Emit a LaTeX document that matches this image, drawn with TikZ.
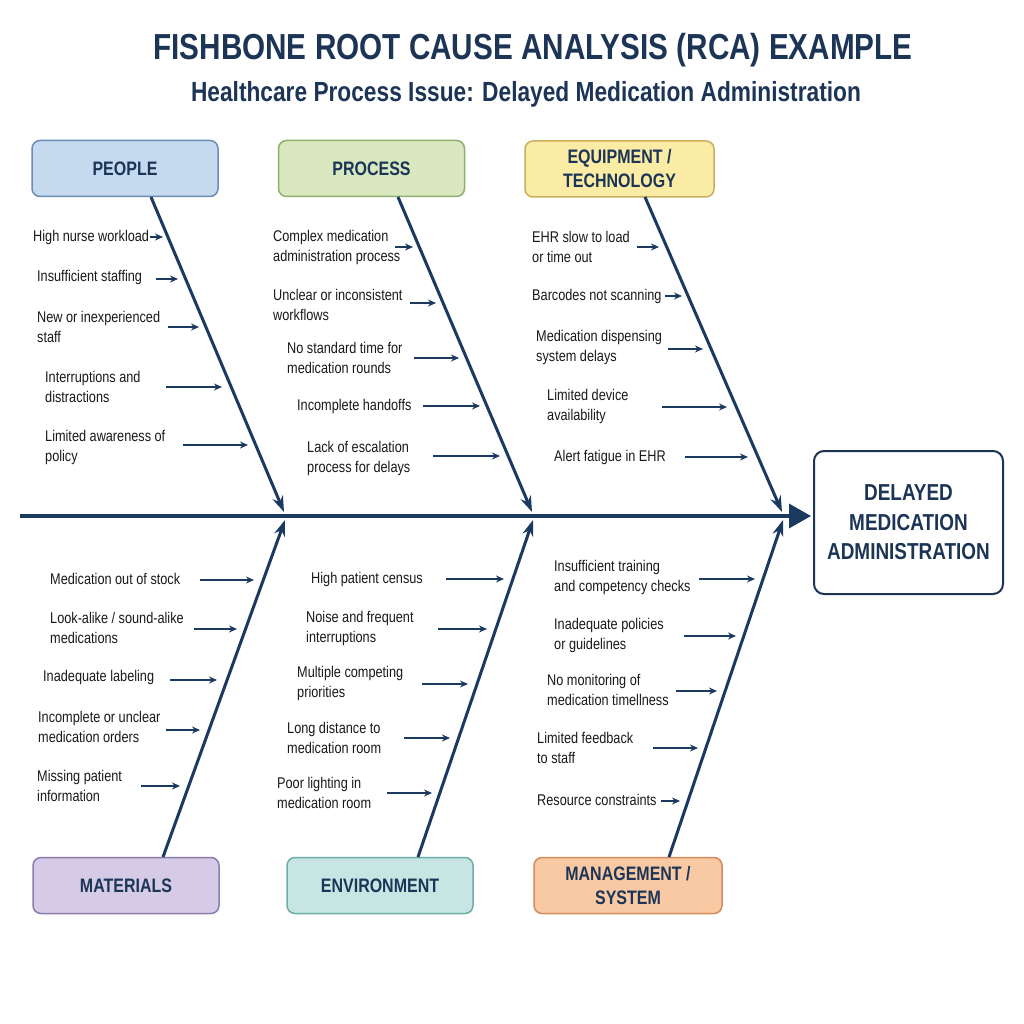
\documentclass[tikz,border=0pt]{standalone}
\usepackage{fontspec}
\setmainfont{Liberation Sans}[FakeStretch=0.82]
\usetikzlibrary{arrows.meta}
\definecolor{navy}{HTML}{1C3557}
\definecolor{bonecol}{HTML}{1B3A60}
\definecolor{causetxt}{HTML}{1A1A1A}
\definecolor{peoplefill}{HTML}{C5DAEF}\definecolor{peopleline}{HTML}{6A8DB5}
\definecolor{procfill}{HTML}{D9E8BF}\definecolor{procline}{HTML}{8FAF6E}
\definecolor{equipfill}{HTML}{FAEBA5}\definecolor{equipline}{HTML}{C9AE5C}
\definecolor{matfill}{HTML}{D5CBE6}\definecolor{matline}{HTML}{8C7DB0}
\definecolor{envfill}{HTML}{C6E5E3}\definecolor{envline}{HTML}{6FADAA}
\definecolor{mgmtfill}{HTML}{F8C9A2}\definecolor{mgmtline}{HTML}{D38C5C}
\newcommand\mycause[7]{%
  \node[cause] (#1) at (#2,#3) {#4};
  \coordinate (#1-s) at (#5,#7);
  \coordinate (#1-e) at (#6,#7);
  \draw[smallarrow] (#1-s) -- (#1-e);}
\begin{document}
\begin{tikzpicture}[x=1pt,y=-1pt,
  catbox/.style={rounded corners=8pt, line width=1.5pt, minimum width=186pt, minimum height=56pt,
    font=\bfseries\fontsize{19.5}{24}\selectfont, text=navy, align=center, inner sep=2pt},
  cause/.style={anchor=west, inner sep=0pt, align=left, text=causetxt,
    font=\fontsize{15.5}{20}\selectfont},
  smallarrow/.style={draw=bonecol, line width=1.4pt, -{Stealth[length=8pt,width=7pt]}},
  bone/.style={draw=bonecol, line width=3pt, -{Stealth[length=16pt,width=11pt]}},
  spine/.style={draw=bonecol, line width=3.5pt, -{Triangle[length=22pt,width=24pt]}}]
\fill[white] (0,0) rectangle (1024,1024);
\useasboundingbox (0,0) rectangle (1024,1024);

% titles
\node[text=navy, font=\bfseries\fontsize{36.2}{40}\selectfont] (title) at (533,50) {FISHBONE ROOT CAUSE ANALYSIS (RCA) EXAMPLE};
\node[text=navy, font=\bfseries\fontsize{27.7}{32}\selectfont] (subtitle) at (526,94) {Healthcare Process Issue: Delayed Medication Administration};

% category boxes
\node[catbox, fill=peoplefill, draw=peopleline] (people) at (125,168.5) {PEOPLE};
\node[catbox, fill=procfill, draw=procline] (process) at (371.5,168.5) {PROCESS};
\node[catbox, fill=equipfill, draw=equipline, minimum width=189pt] (equip) at (619.5,169) {EQUIPMENT /\\TECHNOLOGY};
\node[catbox, fill=matfill, draw=matline] (materials) at (126,885.5) {MATERIALS};
\node[catbox, fill=envfill, draw=envline] (environment) at (380,885.5) {ENVIRONMENT};
\node[catbox, fill=mgmtfill, draw=mgmtline, minimum width=188pt] (management) at (628,885.5) {MANAGEMENT /\\SYSTEM};

% effect box
\node[draw=navy, fill=white, line width=2pt, rounded corners=10pt, minimum width=189pt, minimum height=143pt,
  text=navy, align=center, font=\bfseries\fontsize{23.1}{29.5}\selectfont] (effect) at (908.5,522.5)
  {DELAYED\\MEDICATION\\ADMINISTRATION};

% spine
\coordinate (tail) at (20,516);
\draw[spine, shorten >=2pt] (tail) -- (tail -| effect.west);

% bone coordinates
\coordinate (people-b) at (151,197);
\coordinate (process-b) at (398,197);
\coordinate (equip-b) at (645,197);
\coordinate (materials-b) at (163,857);
\coordinate (environment-b) at (418,857);
\coordinate (management-b) at (669,857);
\coordinate (j1t) at (284,512);
\coordinate (j2t) at (532,512);
\coordinate (j3t) at (782,512);
\coordinate (j1b) at (285,520);
\coordinate (j2b) at (533,520);
\coordinate (j3b) at (783,520);
\draw[bone] (people-b) -- (j1t);
\draw[bone] (process-b) -- (j2t);
\draw[bone] (equip-b) -- (j3t);
\draw[bone] (materials-b) -- (j1b);
\draw[bone] (environment-b) -- (j2b);
\draw[bone] (management-b) -- (j3b);

% people causes
\mycause{p1}{33}{237}{High nurse workload}{150}{163}{237}
\mycause{p2}{37}{277}{Insufficient staffing}{156}{178}{279}
\mycause{p3}{37}{327}{New or inexperienced\\staff}{168}{199}{327}
\mycause{p4}{45}{387}{Interruptions and\\distractions}{166}{222}{387}
\mycause{p5}{45}{447}{Limited awareness of\\policy}{183}{248}{445}
% process causes
\mycause{r1}{273}{247}{Complex medication\\administration process}{395}{413}{247}
\mycause{r2}{273}{305}{Unclear or inconsistent\\workflows}{410}{436}{303}
\mycause{r3}{287}{358}{No standard time for\\medication rounds}{414}{459}{358}
\mycause{r4}{297}{406}{Incomplete handoffs}{423}{480}{406}
\mycause{r5}{307}{458}{Lack of escalation\\process for delays}{433}{500}{456}
% equipment causes
\mycause{e1}{532}{247}{EHR slow to load\\or time out}{637}{659}{247}
\mycause{e2}{532}{296}{Barcodes not scanning}{665}{682}{296}
\mycause{e3}{536}{347}{Medication dispensing\\system delays}{668}{703}{349}
\mycause{e4}{547}{406}{Limited device\\availability}{662}{727}{407}
\mycause{e5}{554}{457}{Alert fatigue in EHR}{685}{748}{457}
% materials causes
\mycause{m1}{50}{579}{Medication out of stock}{200}{254}{580}
\mycause{m2}{50}{628}{Look-alike / sound-alike\\medications}{194}{237}{629}
\mycause{m3}{43}{677}{Inadequate labeling}{170}{217}{680}
\mycause{m4}{38}{727}{Incomplete or unclear\\medication orders}{166}{200}{730}
\mycause{m5}{37}{786}{Missing patient\\information}{141}{180}{786}
% environment causes
\mycause{v1}{311}{579}{High patient census}{446}{504}{579}
\mycause{v2}{306}{628}{Noise and frequent\\interruptions}{438}{487}{629}
\mycause{v3}{297}{683}{Multiple competing\\priorities}{422}{468}{684}
\mycause{v4}{287}{738}{Long distance to\\medication room}{404}{450}{738}
\mycause{v5}{277}{793}{Poor lighting in\\medication room}{387}{432}{793}
% management causes
\mycause{g1}{554}{577}{Insufficient training\\and competency checks}{699}{755}{579}
\mycause{g2}{554}{635}{Inadequate policies\\or guidelines}{684}{736}{636}
\mycause{g3}{547}{690}{No monitoring of\\medication timellness}{676}{717}{691}
\mycause{g4}{537}{748}{Limited feedback\\to staff}{653}{698}{748}
\mycause{g5}{537}{800}{Resource constraints}{661}{680}{801}
\end{tikzpicture}
\end{document}
